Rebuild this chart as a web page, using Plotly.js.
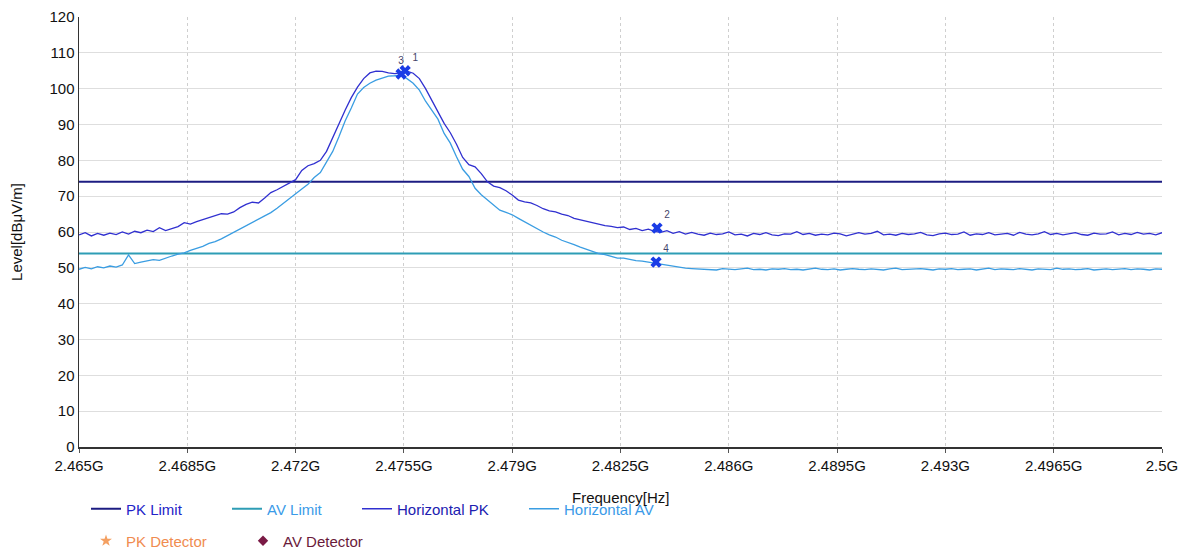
<!DOCTYPE html>
<html>
<head>
<meta charset="utf-8">
<script src="https://cdn.plot.ly/plotly-3.0.1.min.js"></script>
<style>html,body{margin:0;padding:0;background:#fff;}#chart{width:1188px;height:551px;}</style>
</head>
<body>
<div id="chart"></div>
<script>
// Sweep grid (GHz)
const sweepStart = 2.465;
const sweepStep = 0.0002;

// Horizontal PK trace (dBµV/m)
const horizontalPK = [
59.2, 59.8, 58.9, 59.6, 59.1, 59.7, 59.3, 60.0, 59.4, 60.2,
59.8, 60.5, 60.1, 61.2, 60.4, 60.9, 61.5, 62.6, 62.2, 62.9,
63.4, 63.9, 64.6, 65.1, 65.0, 65.6, 66.8, 67.7, 68.3, 68.1,
69.5, 71.0, 71.8, 72.7, 73.5, 74.6, 77.2, 78.5, 79.1, 80.0,
82.5, 86.5, 90.5, 94.0, 97.5, 100.4, 102.8, 104.4, 104.9, 104.8,
104.4, 104.2, 104.4, 104.9, 104.3, 102.8, 100.0, 96.8, 93.2, 90.3,
87.7, 84.5, 80.8, 78.8, 78.2, 76.3, 74.0, 72.8, 72.4, 71.5,
70.3, 68.9, 68.4, 68.1, 67.4, 66.5, 65.9, 65.6, 65.0, 64.6,
63.8, 63.4, 62.9, 62.6, 62.2, 61.8, 61.6, 61.2, 61.4, 60.7,
61.0, 60.4, 60.8, 60.2, 59.9, 60.4, 59.6, 60.1, 59.4, 59.9,
59.4, 59.1, 59.7, 59.3, 59.5, 60.0, 59.2, 59.4, 58.9, 59.6,
59.3, 59.8, 59.2, 59.0, 59.5, 59.4, 60.1, 59.3, 59.6, 59.1,
59.4, 59.2, 59.7, 59.5, 58.9, 59.3, 59.8, 59.4, 59.6, 60.2,
59.2, 59.4, 59.1, 59.6, 59.3, 59.5, 59.9, 59.2, 59.0, 59.5,
59.7, 59.3, 59.4, 60.0, 59.1, 59.5, 59.3, 59.8, 59.2, 59.4,
59.6, 59.1, 59.9, 59.4, 59.2, 59.5, 60.1, 59.3, 59.6, 59.2,
59.4, 59.8, 59.3, 59.1, 59.7, 59.4, 59.5, 60.0, 59.2, 59.6,
59.3, 59.9, 59.4, 59.6, 59.2, 59.8
];

// Horizontal AV trace (dBµV/m)
const horizontalAV = [
49.6, 50.1, 49.7, 50.3, 50.0, 50.5, 50.2, 50.8, 53.6, 51.2,
51.6, 51.9, 52.3, 52.1, 52.8, 53.3, 53.8, 54.2, 54.9, 55.4,
56.0, 56.8, 57.3, 58.1, 59.0, 59.9, 60.8, 61.7, 62.6, 63.5,
64.6, 65.4, 66.6, 68.0, 69.3, 70.8, 72.0, 73.3, 75.2, 76.6,
79.5, 82.5, 86.6, 91.0, 94.6, 98.5, 100.3, 101.5, 102.4, 103.0,
103.5, 103.6, 103.8, 102.8, 101.5, 99.6, 96.5, 94.0, 91.5, 87.5,
84.8, 81.0, 77.5, 75.5, 72.2, 70.4, 68.9, 67.6, 66.1, 65.5,
64.8, 63.8, 62.8, 61.9, 60.8, 60.0, 59.2, 58.6, 57.7, 57.2,
56.5, 55.8, 55.2, 54.6, 54.0, 53.7, 53.2, 52.7, 52.7, 52.3,
52.0, 51.9, 51.6, 51.4, 51.0, 50.6, 50.3, 50.1, 49.9, 49.8,
49.7, 49.5, 49.6, 49.4, 49.8, 49.6, 49.5, 49.7, 49.9, 49.5,
49.6, 49.4, 49.7, 49.6, 49.8, 49.5, 49.6, 49.4, 49.7, 49.9,
49.6, 49.5, 49.7, 49.4, 49.6, 49.8, 49.6, 49.5, 49.7, 49.6,
49.4, 49.7, 49.9, 49.5, 49.6, 49.5, 49.8, 49.6, 49.4, 49.7,
49.6, 49.8, 49.5, 49.6, 49.7, 49.4, 49.6, 49.9, 49.5, 49.7,
49.6, 49.5, 49.8, 49.6, 49.4, 49.7, 49.6, 49.5, 49.9, 49.6,
49.7, 49.5, 49.6, 49.8, 49.4, 49.6, 49.7, 49.5, 49.6, 49.8,
49.5, 49.7, 49.6, 49.4, 49.7, 49.6
];

// Limits
const limitFreq = [2.465, 2.5];
const pkLimit = [74, 74];
const avLimit = [54, 54];

// Markers
const markerFreq = [2.47554, 2.48368, 2.47541, 2.48365];
const markerLevel = [105.0, 61.1, 104.1, 51.6];
const markerLabel = ['1', '2', '3', '4'];
const markerLabelPos = ['top right', 'top right', 'top center', 'top right'];

// Axis ticks
const xTickVals = [2.465, 2.4685, 2.472, 2.4755, 2.479, 2.4825, 2.486, 2.4895, 2.493, 2.4965, 2.5];
const xTickText = ['2.465G', '2.4685G', '2.472G', '2.4755G', '2.479G', '2.4825G', '2.486G', '2.4895G', '2.493G', '2.4965G', '2.5G'];

const FONT = 'Liberation Sans, Arial, sans-serif';

const traces = [
  {x: limitFreq, y: pkLimit, mode: 'lines', name: 'PK Limit', legend: 'legend',
   line: {color: '#1c1c82', width: 2}, hoverinfo: 'skip'},
  {x: limitFreq, y: avLimit, mode: 'lines', name: 'AV Limit', legend: 'legend2',
   line: {color: '#2e9db5', width: 2}, hoverinfo: 'skip'},
  {y: horizontalPK, x0: sweepStart, dx: sweepStep, mode: 'lines', name: 'Horizontal PK', legend: 'legend3',
   line: {color: '#3030d0', width: 1.3}},
  {y: horizontalAV, x0: sweepStart, dx: sweepStep, mode: 'lines', name: 'Horizontal AV', legend: 'legend4',
   line: {color: '#3a9de2', width: 1.3}},
  {x: [null], y: [null], mode: 'markers', name: 'PK Detector', legend: 'legend5',
   marker: {symbol: 'star', color: '#f4a062', size: 9}},
  {x: [null], y: [null], mode: 'markers', name: 'AV Detector', legend: 'legend6',
   marker: {symbol: 'diamond', color: '#7a1a45', size: 8}},
  {x: markerFreq, y: markerLevel, mode: 'markers+text', text: markerLabel, textposition: markerLabelPos,
   textfont: {family: FONT, size: 10, color: '#44446a'}, showlegend: false,
   marker: {symbol: 'x', color: '#1a3ce6', size: 10}}
];

function leg(x, y, color) {
  return {xref: 'container', yref: 'container', x: x, y: y, xanchor: 'left', yanchor: 'middle',
    orientation: 'h', bgcolor: 'rgba(0,0,0,0)', borderwidth: 0,
    font: {family: FONT, size: 15, color: color}};
}

const layout = {
  width: 1188, height: 551,
  margin: {l: 79, r: 26, t: 17, b: 104},
  paper_bgcolor: '#ffffff', plot_bgcolor: '#ffffff',
  font: {family: FONT, size: 15, color: '#111'},
  xaxis: {
    range: [2.465, 2.5], tickmode: 'array', tickvals: xTickVals, ticktext: xTickText,
    showgrid: true, gridcolor: '#cfcfcf', griddash: 'dot', gridwidth: 1,
    showline: true, linecolor: '#333', linewidth: 1.5,
    ticks: 'outside', ticklen: 4, tickcolor: '#555',
    zeroline: false, tickfont: {family: FONT, size: 15, color: '#111'},
    automargin: false
  },
  yaxis: {
    range: [0, 120], tickmode: 'linear', tick0: 0, dtick: 10,
    showgrid: true, gridcolor: '#dedede', gridwidth: 1,
    showline: true, linecolor: '#333', linewidth: 1.5,
    ticks: '', zeroline: false, tickfont: {family: FONT, size: 15, color: '#111'},
    title: {text: 'Level[dBμV/m]', standoff: 23, font: {family: FONT, size: 15, color: '#111'}},
    automargin: false
  },
  annotations: [{
    text: 'Frequency[Hz]', xref: 'paper', x: 0.5, xanchor: 'center',
    yref: 'paper', y: -50/430, yanchor: 'middle', showarrow: false,
    font: {family: FONT, size: 15, color: '#111'}
  }],
  legend: leg(86/1188, 1 - 509/551, '#2323c8'),
  legend2: leg(227/1188, 1 - 509/551, '#3a9be8'),
  legend3: leg(357/1188, 1 - 509/551, '#2020b0'),
  legend4: leg(524/1188, 1 - 509/551, '#3a9ae8'),
  legend5: leg(86/1188, 1 - 541/551, '#f08c50'),
  legend6: leg(243/1188, 1 - 541/551, '#6a1a3a'),
  showlegend: true
};

Plotly.newPlot('chart', traces, layout, {displayModeBar: false, staticPlot: true});
</script>
</body>
</html>
